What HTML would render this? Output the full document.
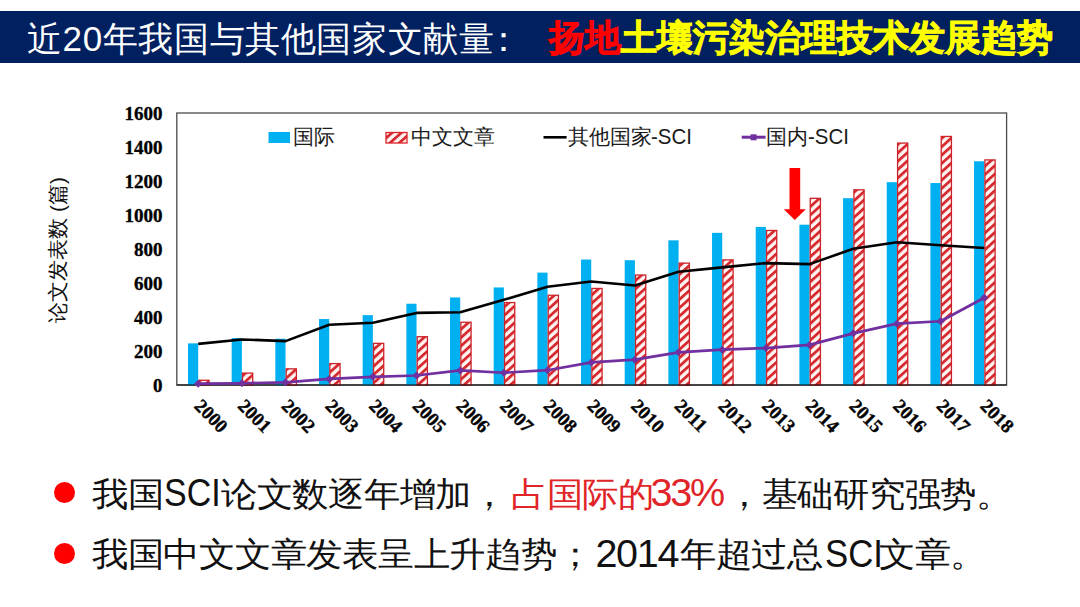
<!DOCTYPE html>
<html><head><meta charset="utf-8">
<style>
html,body{margin:0;padding:0;background:#fff;width:1080px;height:607px;overflow:hidden;position:relative;font-family:"Liberation Sans",sans-serif;}
.bar{position:absolute;left:0;top:10.6px;width:1080px;height:52.4px;background:#002060;}
.t{position:absolute;white-space:nowrap;line-height:1;}
svg{position:absolute;left:0;top:0;}
.leg{font-size:21px;color:#1a1a1a;}
.cj{font-size:34px;color:#111;letter-spacing:-0.6px;transform:scaleX(1.07);transform-origin:0 0;}
.la{font-size:39.5px;color:#111;}
.dot{position:absolute;width:21px;height:21px;border-radius:50%;background:#FF0000;}
</style></head><body>
<div class="bar"></div>
<div class="t" id="t1" style="left:27px;top:20.8px;font-size:35px;color:#fff;letter-spacing:0.6px;">近20年我国与其他国家文献量</div><div class="t" style="left:486px;top:20.8px;font-size:35px;color:#fff;">：</div>
<div class="t" id="t2" style="left:549px;top:19.5px;font-size:36px;font-weight:bold;color:#FFFF00;-webkit-text-stroke:0.9px #FFFF00;"><span style="color:#FF0000;-webkit-text-stroke:0.9px #FF0000;">扬地</span>土壤污染治理技术发展趋势</div>
<svg width="1080" height="607" viewBox="0 0 1080 607">
<defs>
<pattern id="hatch" patternUnits="userSpaceOnUse" width="6.2" height="6.2" patternTransform="rotate(48)">
<rect width="6.2" height="6.2" fill="#FFF6F4"/>
<rect x="0" y="0" width="2.8" height="6.2" fill="#D72A2E"/>
</pattern>
</defs>
<rect x="176.8" y="113" width="829.8" height="272" fill="none" stroke="#4a4a4a" stroke-width="1.3"/><rect x="188.00" y="343.35" width="10.2" height="41.65" fill="#00B0F0"/><rect x="198.85" y="380.24" width="10.2" height="4.76" fill="url(#hatch)" stroke="#CC2229" stroke-width="1.3"/><rect x="231.67" y="338.08" width="10.2" height="46.92" fill="#00B0F0"/><rect x="242.52" y="373.10" width="10.2" height="11.90" fill="url(#hatch)" stroke="#CC2229" stroke-width="1.3"/><rect x="275.34" y="338.76" width="10.2" height="46.24" fill="#00B0F0"/><rect x="286.19" y="368.85" width="10.2" height="16.15" fill="url(#hatch)" stroke="#CC2229" stroke-width="1.3"/><rect x="319.01" y="319.04" width="10.2" height="65.96" fill="#00B0F0"/><rect x="329.86" y="363.58" width="10.2" height="21.42" fill="url(#hatch)" stroke="#CC2229" stroke-width="1.3"/><rect x="362.68" y="315.13" width="10.2" height="69.87" fill="#00B0F0"/><rect x="373.53" y="343.35" width="10.2" height="41.65" fill="url(#hatch)" stroke="#CC2229" stroke-width="1.3"/><rect x="406.35" y="303.74" width="10.2" height="81.26" fill="#00B0F0"/><rect x="417.20" y="336.72" width="10.2" height="48.28" fill="url(#hatch)" stroke="#CC2229" stroke-width="1.3"/><rect x="450.02" y="297.45" width="10.2" height="87.55" fill="#00B0F0"/><rect x="460.87" y="322.27" width="10.2" height="62.73" fill="url(#hatch)" stroke="#CC2229" stroke-width="1.3"/><rect x="493.69" y="287.42" width="10.2" height="97.58" fill="#00B0F0"/><rect x="504.54" y="302.55" width="10.2" height="82.45" fill="url(#hatch)" stroke="#CC2229" stroke-width="1.3"/><rect x="537.36" y="272.63" width="10.2" height="112.37" fill="#00B0F0"/><rect x="548.21" y="295.24" width="10.2" height="89.76" fill="url(#hatch)" stroke="#CC2229" stroke-width="1.3"/><rect x="581.03" y="259.54" width="10.2" height="125.46" fill="#00B0F0"/><rect x="591.88" y="288.44" width="10.2" height="96.56" fill="url(#hatch)" stroke="#CC2229" stroke-width="1.3"/><rect x="624.70" y="260.22" width="10.2" height="124.78" fill="#00B0F0"/><rect x="635.55" y="275.01" width="10.2" height="109.99" fill="url(#hatch)" stroke="#CC2229" stroke-width="1.3"/><rect x="668.37" y="240.33" width="10.2" height="144.67" fill="#00B0F0"/><rect x="679.22" y="263.11" width="10.2" height="121.89" fill="url(#hatch)" stroke="#CC2229" stroke-width="1.3"/><rect x="712.04" y="232.85" width="10.2" height="152.15" fill="#00B0F0"/><rect x="722.89" y="259.88" width="10.2" height="125.12" fill="url(#hatch)" stroke="#CC2229" stroke-width="1.3"/><rect x="755.71" y="226.90" width="10.2" height="158.10" fill="#00B0F0"/><rect x="766.56" y="230.47" width="10.2" height="154.53" fill="url(#hatch)" stroke="#CC2229" stroke-width="1.3"/><rect x="799.38" y="224.69" width="10.2" height="160.31" fill="#00B0F0"/><rect x="810.23" y="198.34" width="10.2" height="186.66" fill="url(#hatch)" stroke="#CC2229" stroke-width="1.3"/><rect x="843.05" y="198.17" width="10.2" height="186.83" fill="#00B0F0"/><rect x="853.90" y="189.84" width="10.2" height="195.16" fill="url(#hatch)" stroke="#CC2229" stroke-width="1.3"/><rect x="886.72" y="182.19" width="10.2" height="202.81" fill="#00B0F0"/><rect x="897.57" y="143.09" width="10.2" height="241.91" fill="url(#hatch)" stroke="#CC2229" stroke-width="1.3"/><rect x="930.39" y="183.04" width="10.2" height="201.96" fill="#00B0F0"/><rect x="941.24" y="136.46" width="10.2" height="248.54" fill="url(#hatch)" stroke="#CC2229" stroke-width="1.3"/><rect x="974.06" y="161.28" width="10.2" height="223.72" fill="#00B0F0"/><rect x="984.91" y="159.92" width="10.2" height="225.08" fill="url(#hatch)" stroke="#CC2229" stroke-width="1.3"/><line x1="176.8" y1="385" x2="1006.6" y2="385" stroke="#000" stroke-width="1.2"/><polyline points="198.20,343.86 241.87,339.44 285.54,341.14 329.21,324.82 372.88,322.78 416.55,312.92 460.22,312.24 503.89,299.83 547.56,286.74 591.23,281.47 634.90,285.55 678.57,271.78 722.24,267.36 765.91,263.11 809.58,264.13 853.25,248.83 896.92,242.20 940.59,245.26 984.26,247.98" fill="none" stroke="#000" stroke-width="2.6" stroke-linejoin="round"/><polyline points="198.20,383.64 241.87,383.30 285.54,382.28 329.21,378.88 372.88,376.84 416.55,375.48 460.22,370.38 503.89,372.76 547.56,370.21 591.23,362.39 634.90,359.67 678.57,352.36 722.24,349.64 765.91,348.11 809.58,344.88 853.25,333.32 896.92,323.63 940.59,321.25 984.26,297.79" fill="none" stroke="#7030A0" stroke-width="2.7" stroke-linejoin="round"/><polygon points="194.20,383.64 198.20,379.64 202.20,383.64 198.20,387.64" fill="#7030A0"/><polygon points="237.87,383.30 241.87,379.30 245.87,383.30 241.87,387.30" fill="#7030A0"/><polygon points="281.54,382.28 285.54,378.28 289.54,382.28 285.54,386.28" fill="#7030A0"/><polygon points="325.21,378.88 329.21,374.88 333.21,378.88 329.21,382.88" fill="#7030A0"/><polygon points="368.88,376.84 372.88,372.84 376.88,376.84 372.88,380.84" fill="#7030A0"/><polygon points="412.55,375.48 416.55,371.48 420.55,375.48 416.55,379.48" fill="#7030A0"/><polygon points="456.22,370.38 460.22,366.38 464.22,370.38 460.22,374.38" fill="#7030A0"/><polygon points="499.89,372.76 503.89,368.76 507.89,372.76 503.89,376.76" fill="#7030A0"/><polygon points="543.56,370.21 547.56,366.21 551.56,370.21 547.56,374.21" fill="#7030A0"/><polygon points="587.23,362.39 591.23,358.39 595.23,362.39 591.23,366.39" fill="#7030A0"/><polygon points="630.90,359.67 634.90,355.67 638.90,359.67 634.90,363.67" fill="#7030A0"/><polygon points="674.57,352.36 678.57,348.36 682.57,352.36 678.57,356.36" fill="#7030A0"/><polygon points="718.24,349.64 722.24,345.64 726.24,349.64 722.24,353.64" fill="#7030A0"/><polygon points="761.91,348.11 765.91,344.11 769.91,348.11 765.91,352.11" fill="#7030A0"/><polygon points="805.58,344.88 809.58,340.88 813.58,344.88 809.58,348.88" fill="#7030A0"/><polygon points="849.25,333.32 853.25,329.32 857.25,333.32 853.25,337.32" fill="#7030A0"/><polygon points="892.92,323.63 896.92,319.63 900.92,323.63 896.92,327.63" fill="#7030A0"/><polygon points="936.59,321.25 940.59,317.25 944.59,321.25 940.59,325.25" fill="#7030A0"/><polygon points="980.26,297.79 984.26,293.79 988.26,297.79 984.26,301.79" fill="#7030A0"/>
<polygon points="789.5,168 800.2,168 800.2,209.3 805.8,209.3 794.8,220 783.8,209.3 789.5,209.3" fill="#FF0000"/>

<rect x="268.5" y="132" width="21.5" height="11" fill="#00B0F0"/>
<rect x="386" y="132.5" width="21" height="10.5" fill="url(#hatch)" stroke="#DC2129" stroke-width="1.3"/>
<line x1="543.5" y1="137.3" x2="566.6" y2="137.3" stroke="#000" stroke-width="2.6"/>
<line x1="741.7" y1="137.2" x2="765.6" y2="137.2" stroke="#7030A0" stroke-width="3"/>
<rect x="750.6" y="134.3" width="6" height="6" fill="#7030A0"/>

<g font-family="Liberation Serif" font-weight="bold" font-size="19" fill="#000" stroke="#000" stroke-width="0.35">
<text x="162.5" y="392.00" text-anchor="end">0</text><text x="162.5" y="358.00" text-anchor="end">200</text><text x="162.5" y="324.00" text-anchor="end">400</text><text x="162.5" y="290.00" text-anchor="end">600</text><text x="162.5" y="256.00" text-anchor="end">800</text><text x="162.5" y="222.00" text-anchor="end">1000</text><text x="162.5" y="188.00" text-anchor="end">1200</text><text x="162.5" y="154.00" text-anchor="end">1400</text><text x="162.5" y="120.00" text-anchor="end">1600</text>
<text transform="translate(193.20,407) rotate(45)" x="0" y="0">2000</text><text transform="translate(236.87,407) rotate(45)" x="0" y="0">2001</text><text transform="translate(280.54,407) rotate(45)" x="0" y="0">2002</text><text transform="translate(324.21,407) rotate(45)" x="0" y="0">2003</text><text transform="translate(367.88,407) rotate(45)" x="0" y="0">2004</text><text transform="translate(411.55,407) rotate(45)" x="0" y="0">2005</text><text transform="translate(455.22,407) rotate(45)" x="0" y="0">2006</text><text transform="translate(498.89,407) rotate(45)" x="0" y="0">2007</text><text transform="translate(542.56,407) rotate(45)" x="0" y="0">2008</text><text transform="translate(586.23,407) rotate(45)" x="0" y="0">2009</text><text transform="translate(629.90,407) rotate(45)" x="0" y="0">2010</text><text transform="translate(673.57,407) rotate(45)" x="0" y="0">2011</text><text transform="translate(717.24,407) rotate(45)" x="0" y="0">2012</text><text transform="translate(760.91,407) rotate(45)" x="0" y="0">2013</text><text transform="translate(804.58,407) rotate(45)" x="0" y="0">2014</text><text transform="translate(848.25,407) rotate(45)" x="0" y="0">2015</text><text transform="translate(891.92,407) rotate(45)" x="0" y="0">2016</text><text transform="translate(935.59,407) rotate(45)" x="0" y="0">2017</text><text transform="translate(979.26,407) rotate(45)" x="0" y="0">2018</text>
</g>
</svg>
<div class="t leg" style="left:293px;top:126px;">国际</div>
<div class="t leg" style="left:411px;top:126px;">中文文章</div>
<div class="t leg" style="left:568px;top:126px;">其他国家</div><div class="t leg" style="left:650.6px;top:124.8px;font-size:22.7px;transform:scaleX(0.9);transform-origin:0 0;">-SCI</div>
<div class="t leg" style="left:766.3px;top:126px;">国内</div><div class="t leg" style="left:808px;top:124.8px;font-size:22.7px;transform:scaleX(0.9);transform-origin:0 0;">-SCI</div>
<div class="t" id="yt" style="left:57px;top:250px;font-size:21px;color:#111;transform:translate(-50%,-50%) rotate(-90deg);">论文发表数 (篇)</div>
<div class="dot" style="left:54px;top:482px;"></div>
<div class="dot" style="left:54px;top:543px;"></div>
<div class="t cj" style="left:91.8px;top:477px;">我国</div>
<div class="t la" style="left:163.7px;top:473.4px;transform:scaleX(0.86);transform-origin:0 0;">SCI</div>
<div class="t cj" style="left:220.7px;top:477px;">论文数逐年增加，</div>
<div class="t cj" style="left:510.5px;top:477px;color:#E02428;">占国际的</div>
<div class="t la" style="left:650.5px;top:473.4px;letter-spacing:-2.2px;color:#E02428;">33%</div>
<div class="t cj" style="left:725.8px;top:477px;">，基础研究强势。</div>
<div class="t cj" style="left:91.8px;top:537.2px;">我国中文文章发表呈上升趋势；</div>
<div class="t la" style="left:595.4px;top:533.8px;letter-spacing:-1.3px;">2014</div>
<div class="t cj" style="left:680px;top:537.2px;">年超过总</div>
<div class="t la" style="left:824.6px;top:533.8px;transform:scaleX(0.88);transform-origin:0 0;">SCI</div>
<div class="t cj" style="left:879.3px;top:537.2px;">文章。</div>
</body></html>
